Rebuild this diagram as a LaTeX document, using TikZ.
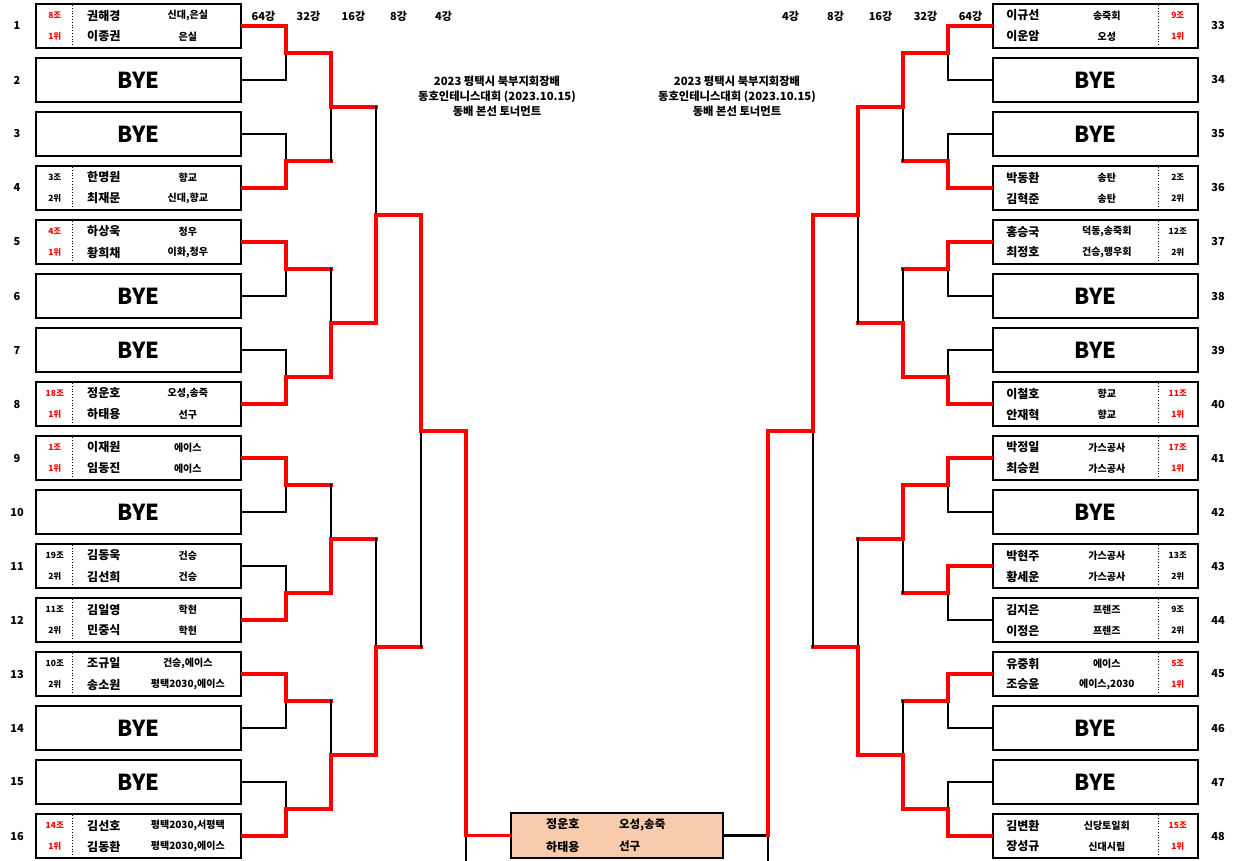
\documentclass[tikz,border=0pt]{standalone}
\usepackage{fontspec}
\setmainfont{Noto Sans CJK KR}
\usetikzlibrary{calc}
\definecolor{rot}{HTML}{FF0000}
\definecolor{pfirsich}{HTML}{F8CBAD}
\tikzset{
  feld/.style={draw,line width=2.4pt,fill=white,minimum width=205pt,minimum height=44pt,inner sep=0pt},
  frei/.style={feld,font=\bfseries\fontsize{22}{24}\selectfont},
  sieg/.style={draw=rot,line width=3.2pt,line cap=rect},
  aus/.style={draw=black,line width=2.6pt,line cap=rect},
  nam/.style={font=\bfseries\fontsize{12}{13}\selectfont,inner sep=0pt},
  ver/.style={font=\bfseries\fontsize{10}{11}\selectfont,inner sep=0pt},
  grp/.style={font=\bfseries\fontsize{8.5}{9}\selectfont,inner sep=0pt},
  nr/.style={font=\bfseries\fontsize{11}{12}\selectfont,inner sep=0pt},
  titel/.style={font=\bfseries\fontsize{11.3}{15}\selectfont,align=center,inner sep=0pt}
}
\newcommand\spiel[6]{%
  \coordinate (#3o) at (#4 |- #1);
  \coordinate (#3u) at (#4 |- #2);
  \coordinate (#3) at ($(#3o)!.5!(#3u)$);
  \if o#6\draw[aus] (#3) -- (#3u);\draw[sieg] (#3o) -- (#3) -- (#5 |- #3);
  \else\draw[aus] (#3o) -- (#3);\draw[sieg] (#3u) -- (#3) -- (#5 |- #3);\fi}
\begin{document}
\begin{tikzpicture}[x=1pt,y=-1pt]
\useasboundingbox (0,0) rectangle (1236,860);
\coordinate (unten) at (0,860);
\foreach \x [count=\i] in {286,331,376,421,466} \coordinate (k\i) at (\x,0);
\foreach \x [count=\i] in {948,903,858,813,768} \coordinate (m\i) at (\x,0);

\foreach \x/\t [count=\i] in {263.5/64강,308.5/32강,353.5/16강,398.5/8강,443.5/4강} \node[nr] (hl\i) at (\x,16) {\t};
\foreach \x/\t [count=\i] in {790.5/4강,835.5/8강,880.5/16강,925.5/32강,970.5/64강} \node[nr] (hr\i) at (\x,16) {\t};
\node[titel] (tl) at (497,96) {2023 평택시 북부지회장배\\동호인테니스대회 (2023.10.15)\\동배 본선 토너먼트};
\node[titel] (tr) at (737,96) {2023 평택시 북부지회장배\\동호인테니스대회 (2023.10.15)\\동배 본선 토너먼트};

\foreach \n/\g/\p/\f/\a/\ca/\b/\cb/\s in {
  1/8/1/rot/권해경/{신대,은실}/이종권/은실/sieg,
  4/3/2/black/한명원/향교/최재문/{신대,향교}/sieg,
  5/4/1/rot/하상욱/청우/황희채/{이화,청우}/sieg,
  8/18/1/rot/정운호/{오성,송죽}/하태용/선구/sieg,
  9/1/1/rot/이재원/에이스/임동진/에이스/sieg,
  11/19/2/black/김동욱/건승/김선희/건승/aus,
  12/11/2/black/김일영/학현/민중식/학현/sieg,
  13/10/2/black/조규일/{건승,에이스}/송소원/{평택2030,에이스}/sieg,
  16/14/1/rot/김선호/{평택2030,서평택}/김동환/{평택2030,에이스}/sieg}{
  \node[feld] (L\n) at (138.5,{26+54*(\n-1)}) {};
  \draw[dotted,line width=.8pt] ([shift={(38,-21)}]L\n.west) -- ([shift={(38,21)}]L\n.west);
  \node[grp,text=\f] (L\n-g) at ([shift={(20,-10.5)}]L\n.west) {{\g}조};
  \node[grp,text=\f] (L\n-p) at ([shift={(20,10.5)}]L\n.west) {{\p}위};
  \node[nam] (L\n-a) at ([shift={(69,-10.5)}]L\n.west) {\a};
  \node[nam] (L\n-b) at ([shift={(69,10.5)}]L\n.west) {\b};
  \node[ver] (L\n-ca) at ([shift={(153,-10.5)}]L\n.west) {\ca};
  \node[ver] (L\n-cb) at ([shift={(153,10.5)}]L\n.west) {\cb};
  \draw[\s] (L\n.east) -- (k1 |- L\n.east);
}
\foreach \n in {2,3,6,7,10,14,15}{
  \node[frei] (L\n) at (138.5,{26+54*(\n-1)}) {BYE};
  \draw[aus] (L\n.east) -- (k1 |- L\n.east);
}
\foreach \n in {1,...,16} \node[nr] (nl\n) at (17,{26+54*(\n-1)}) {\n};

\foreach \n/\g/\p/\f/\a/\ca/\b/\cb/\s in {
  33/9/1/rot/이규선/송죽회/이운암/오성/sieg,
  36/2/2/black/박동환/송탄/김혁준/송탄/sieg,
  37/12/2/black/홍승국/{덕동,송죽회}/최정호/{건승,행우회}/sieg,
  40/11/1/rot/이철호/향교/안재혁/향교/sieg,
  41/17/1/rot/박정일/가스공사/최승원/가스공사/sieg,
  43/13/2/black/박현주/가스공사/황세운/가스공사/sieg,
  44/9/2/black/김지은/프렌즈/이정은/프렌즈/aus,
  45/5/1/rot/유중휘/에이스/조승윤/{에이스,2030}/sieg,
  48/15/1/rot/김변환/신당토일회/장성규/신대시립/sieg}{
  \node[feld] (R\n) at (1095.5,{26+54*(\n-33)}) {};
  \draw[dotted,line width=.8pt] ([shift={(167,-21)}]R\n.west) -- ([shift={(167,21)}]R\n.west);
  \node[grp,text=\f] (R\n-g) at ([shift={(186,-10.5)}]R\n.west) {{\g}조};
  \node[grp,text=\f] (R\n-p) at ([shift={(186,10.5)}]R\n.west) {{\p}위};
  \node[nam] (R\n-a) at ([shift={(31,-10.5)}]R\n.west) {\a};
  \node[nam] (R\n-b) at ([shift={(31,10.5)}]R\n.west) {\b};
  \node[ver] (R\n-ca) at ([shift={(115,-10.5)}]R\n.west) {\ca};
  \node[ver] (R\n-cb) at ([shift={(115,10.5)}]R\n.west) {\cb};
  \draw[\s] (R\n.west) -- (m1 |- R\n.west);
}
\foreach \n in {34,35,38,39,42,46,47}{
  \node[frei] (R\n) at (1095.5,{26+54*(\n-33)}) {BYE};
  \draw[aus] (R\n.west) -- (m1 |- R\n.west);
}
\foreach \n in {33,...,48} \node[nr] (nr\n) at (1218,{26+54*(\n-33)}) {\n};

\node[feld,fill=pfirsich,minimum width=212pt,minimum height=45pt] (W) at (617,835.5) {};
\node[nam] (W-a) at ([shift={(53,-11)}]W.west) {정운호};
\node[nam] (W-b) at ([shift={(53,11)}]W.west) {하태용};
\node[ver,anchor=west,font=\bfseries\fontsize{11.5}{12}\selectfont] (W-ca) at ([shift={(109,-11)}]W.west) {오성,송죽};
\node[ver,anchor=west,font=\bfseries\fontsize{11.5}{12}\selectfont] (W-cb) at ([shift={(109,11)}]W.west) {선구};

\foreach \a/\b/\m/\w in {L1/L2/a1/o,L3/L4/a2/u,L5/L6/a3/o,L7/L8/a4/u,L9/L10/a5/o,L11/L12/a6/u,L13/L14/a7/o,L15/L16/a8/u}
  {\spiel{\a.east}{\b.east}{\m}{k1}{k2}{\w}}
\foreach \a/\b/\m/\w in {a1/a2/b1/o,a3/a4/b2/u,a5/a6/b3/u,a7/a8/b4/u}
  {\spiel{\a}{\b}{\m}{k2}{k3}{\w}}
\foreach \a/\b/\m/\w in {b1/b2/c1/u,b3/b4/c2/u}
  {\spiel{\a}{\b}{\m}{k3}{k4}{\w}}
\spiel{c1}{c2}{d1}{k4}{k5}{o}
\foreach \a/\b/\m/\w in {R33/R34/e1/o,R35/R36/e2/u,R37/R38/e3/o,R39/R40/e4/u,R41/R42/e5/o,R43/R44/e6/o,R45/R46/e7/o,R47/R48/e8/u}
  {\spiel{\a.west}{\b.west}{\m}{m1}{m2}{\w}}
\foreach \a/\b/\m/\w in {e1/e2/f1/o,e3/e4/f2/u,e5/e6/f3/o,e7/e8/f4/u}
  {\spiel{\a}{\b}{\m}{m2}{m3}{\w}}
\foreach \a/\b/\m/\w in {f1/f2/g1/o,f3/f4/g2/u}
  {\spiel{\a}{\b}{\m}{m3}{m4}{\w}}
\spiel{g1}{g2}{h1}{m4}{m5}{o}

\draw[aus] (k5 |- W.west) -- (k5 |- unten);
\draw[sieg] (k5 |- d1) -- (k5 |- W.west) -- (W.west);
\draw[aus] (m5 |- W.east) -- (m5 |- unten);
\draw[aus] (W.east) -- (m5 |- W.east);
\draw[sieg] (m5 |- h1) -- (m5 |- W.east);
\end{tikzpicture}
\end{document}
